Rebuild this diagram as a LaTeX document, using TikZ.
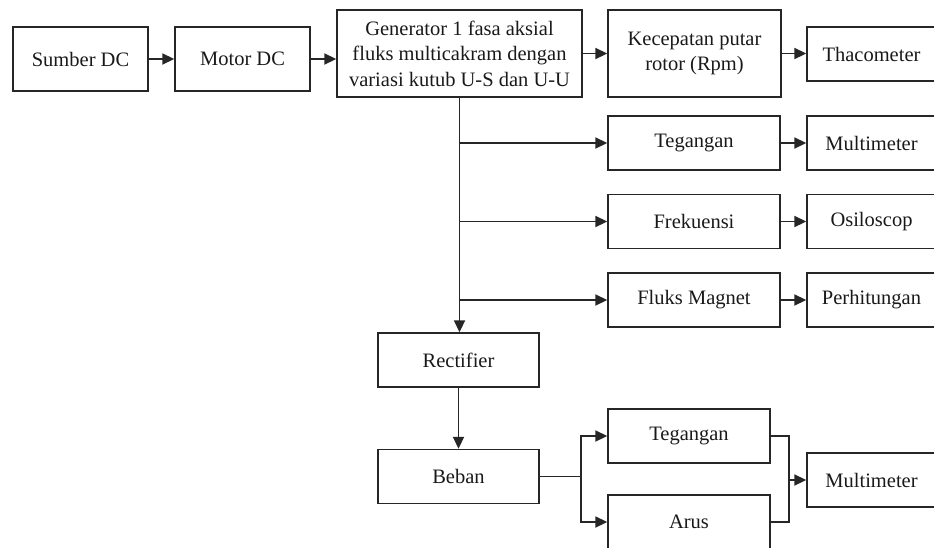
\documentclass[tikz,border=0pt]{standalone}
\usepackage{fontspec}
\setmainfont{Liberation Serif}
\usetikzlibrary{arrows.meta}
\begin{document}
\begin{tikzpicture}[x=1pt,y=1pt,
  blok/.style={draw=black!85, line width=1.4pt, rectangle, inner sep=0pt, align=center,
    font=\fontsize{20.5}{25.5}\selectfont, text=black!90},
  panah/.style={draw=black!85, line width=1.8pt, -{Triangle[length=12pt,width=11pt]}},
  garis/.style={draw=black!85, line width=1.8pt}]
\useasboundingbox (0,0) rectangle (934,-547);
\node[blok, minimum width=135, minimum height=64] (sumber) at (80.5,-59) {Sumber DC};
\node[blok, minimum width=135, minimum height=64] (motor) at (242.5,-59) {Motor DC};
\node[blok, minimum width=245, minimum height=87] (gen) at (459.5,-53.5) {Generator 1 fasa aksial\\fluks multicakram dengan\\variasi kutub U-S dan U-U};
\node[blok, minimum width=173, minimum height=87] (kec) at (694.5,-53.5) {Kecepatan putar\\rotor (Rpm)};
\node[blok, minimum width=129, minimum height=54] (thaco) at (871.5,-54) {Thacometer};
\node[blok, minimum width=172, minimum height=54] (teg1) at (694,-143) {Tegangan};
\node[blok, minimum width=129, minimum height=54] (multi1) at (871.5,-143) {Multimeter};
\node[blok, minimum width=172, minimum height=54] (frek) at (694,-221.5) {Frekuensi};
\node[blok, minimum width=129, minimum height=54] (osil) at (871.5,-221.5) {Osiloscop};
\node[blok, minimum width=172, minimum height=54] (fluks) at (694,-300) {Fluks Magnet};
\node[blok, minimum width=129, minimum height=54] (perh) at (871.5,-300) {Perhitungan};
\node[blok, minimum width=161, minimum height=54] (rect) at (458.5,-360) {Rectifier};
\node[blok, minimum width=161, minimum height=54] (beban) at (458.5,-476.5) {Beban};
\node[blok, minimum width=162, minimum height=54] (teg2) at (689,-436) {Tegangan};
\node[blok, minimum width=162, minimum height=54] (arus) at (689,-522) {Arus};
\node[blok, minimum width=129, minimum height=54] (multi2) at (871.5,-480) {Multimeter};
\coordinate (sp) at (581,-476.5);
\coordinate (jn) at (789,-480);
% top row
\draw[panah] (sumber.east) -- (motor.west);
\draw[panah] (motor.east) -- (motor.east -| gen.west);
\draw[panah] (gen.east) -- (kec.west);
\draw[panah] (kec.east) -- (kec.east -| thaco.west);
% trunk and branches
\draw[panah] (gen.south) -- (gen.south |- rect.north);
\draw[panah] (gen.south |- teg1.west) -- (teg1.west);
\draw[panah] (gen.south |- frek.west) -- (frek.west);
\draw[panah] (gen.south |- fluks.west) -- (fluks.west);
\draw[panah] (teg1.east) -- (multi1.west);
\draw[panah] (frek.east) -- (osil.west);
\draw[panah] (fluks.east) -- (perh.west);
% lower part
\draw[panah] (rect.south) -- (beban.north);
\draw[garis] (beban.east) -- (sp);
\draw[panah] (sp) |- (teg2.west);
\draw[panah] (sp) |- (arus.west);
\draw[garis] (teg2.east) -| (jn) |- (arus.east);
\draw[panah] (jn) -- (jn -| multi2.west);
\end{tikzpicture}
\end{document}
